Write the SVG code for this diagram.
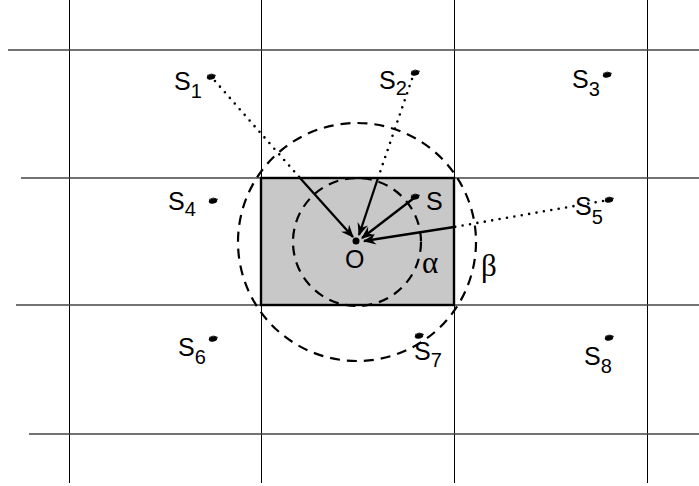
<svg xmlns="http://www.w3.org/2000/svg" width="699" height="486" viewBox="0 0 699 486">
<defs>
<style>
.g{stroke:#000;stroke-width:1;fill:none}
.h{stroke:#444;stroke-width:1.3;fill:none}
.dash{stroke:#000;stroke-width:2.2;fill:none;stroke-dasharray:10 7}
.dot{stroke:#000;stroke-width:2.6;fill:none;stroke-dasharray:0 7.5;stroke-linecap:round}
.arr{stroke:#000;stroke-width:2.3;fill:none;marker-end:url(#ah)}
.t{font-family:"Liberation Sans",Arial,sans-serif;font-size:25px;fill:#000}
.sub{font-size:20px}
.gr{font-family:"Liberation Serif","DejaVu Serif",serif;font-size:31px;fill:#000}
</style>
<marker id="ah" viewBox="0 0 12 10" refX="11" refY="5" markerWidth="13" markerHeight="11" markerUnits="userSpaceOnUse" orient="auto">
<path d="M0,0 L12,5 L0,10 L4,5 Z" fill="#000"/>
</marker>
<symbol id="sat" viewBox="-6 -4 12 8" overflow="visible">
<ellipse cx="0" cy="0" rx="4.3" ry="2.6" transform="rotate(-15)" fill="#000"/>
<path d="M-4,-1.5 Q0,-4.5 5,-1.5" stroke="#000" stroke-width="0.8" fill="none"/>
</symbol>
</defs>
<rect width="699" height="486" fill="#fff"/>
<g id="grid">
<line class="g" x1="69.5" y1="0" x2="69.5" y2="483"/>
<line class="g" x1="261.5" y1="0" x2="261.5" y2="483"/>
<line class="g" x1="454.5" y1="0" x2="454.5" y2="483"/>
<line class="g" x1="647.5" y1="0" x2="647.5" y2="483"/>
<line class="h" x1="8" y1="50" x2="699" y2="50"/>
<line class="h" x1="21" y1="178" x2="699" y2="178"/>
<line class="h" x1="16" y1="305" x2="699" y2="305"/>
<line class="h" x1="29" y1="434" x2="699" y2="434"/>
</g>
<g id="cell">
<rect x="261" y="178" width="193" height="127" fill="#c8c8c8" stroke="#000" stroke-width="2.4"/>
</g>
<g id="circles">
<circle id="beta-circle" class="dash" cx="357" cy="242" r="119"/>
<circle id="alpha-circle" class="dash" cx="357" cy="242" r="64"/>
</g>
<g id="connectors">
<line class="dot" x1="215" y1="81" x2="300" y2="178"/>
<line class="arr" x1="300" y1="178" x2="353" y2="237"/>
<line class="dot" x1="412" y1="79" x2="378" y2="178"/>
<line class="arr" x1="378" y1="178" x2="359" y2="235"/>
<line class="arr" x1="414" y1="198" x2="362" y2="238"/>
<line class="dot" x1="603" y1="201" x2="454" y2="227"/>
<line class="arr" x1="454" y1="227" x2="364" y2="241"/>
</g>
<g id="O">
<circle cx="356" cy="241" r="3.5" fill="#000"/>
<text class="t" x="345" y="268">O</text>
</g>
<g id="S">
<use href="#sat" x="415" y="197" width="12" height="8" transform="translate(-6 -4)"/>
<text class="t" x="426" y="210">S</text>
</g>
<g id="S1"><use href="#sat" x="211" y="77" width="12" height="8" transform="translate(-6 -4)"/><text class="t" x="174" y="90">S<tspan class="sub" dy="8">1</tspan></text></g>
<g id="S2"><use href="#sat" x="415" y="73" width="12" height="8" transform="translate(-6 -4)"/><text class="t" x="379" y="89">S<tspan class="sub" dy="6">2</tspan></text></g>
<g id="S3"><use href="#sat" x="607" y="75" width="12" height="8" transform="translate(-6 -4)"/><text class="t" x="572" y="88">S<tspan class="sub" dy="8">3</tspan></text></g>
<g id="S4"><use href="#sat" x="213" y="201" width="12" height="8" transform="translate(-6 -4)"/><text class="t" x="168" y="210">S<tspan class="sub" dy="6">4</tspan></text></g>
<g id="S5"><use href="#sat" x="609" y="200" width="12" height="8" transform="translate(-6 -4)"/><text class="t" x="575" y="215">S<tspan class="sub" dy="9">5</tspan></text></g>
<g id="S6"><use href="#sat" x="213" y="339" width="12" height="8" transform="translate(-6 -4)"/><text class="t" x="178" y="356">S<tspan class="sub" dy="8">6</tspan></text></g>
<g id="S7"><use href="#sat" x="419" y="336" width="12" height="8" transform="translate(-6 -4)"/><text class="t" x="414" y="360">S<tspan class="sub" dy="7">7</tspan></text></g>
<g id="S8"><use href="#sat" x="609" y="338" width="12" height="8" transform="translate(-6 -4)"/><text class="t" x="584" y="365">S<tspan class="sub" dy="8">8</tspan></text></g>
<g id="labels">
<text class="gr" x="422" y="273">α</text>
<text class="gr" x="481" y="276">β</text>
</g>
</svg>
